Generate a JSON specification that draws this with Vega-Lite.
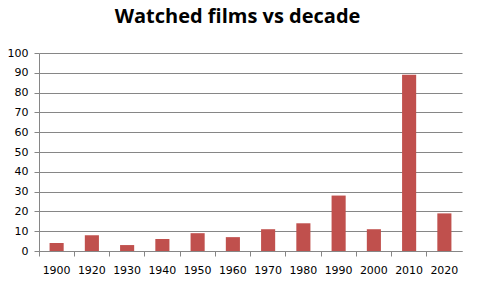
{
  "$schema": "https://vega.github.io/schema/vega-lite/v6.json",
  "autosize": "none",
  "width": 423,
  "height": 198,
  "padding": {"left": 39, "top": 53, "right": 15, "bottom": 33},
  "background": "white",
  "title": {"text": "Watched films vs decade", "font": "Open Sans", "fontWeight": "bold", "fontSize": 20, "color": "#000000", "anchor": "middle", "offset": 20, "dx": -13},
  "data": {"values": [
    {"decade": "1900", "films": 4},
    {"decade": "1920", "films": 8},
    {"decade": "1930", "films": 3},
    {"decade": "1940", "films": 6},
    {"decade": "1950", "films": 9},
    {"decade": "1960", "films": 7},
    {"decade": "1970", "films": 11},
    {"decade": "1980", "films": 14},
    {"decade": "1990", "films": 28},
    {"decade": "2000", "films": 11},
    {"decade": "2010", "films": 89},
    {"decade": "2020", "films": 19}
  ]},
  "config": {"view": {"stroke": null}},
  "mark": {"type": "bar", "color": "#C0504D", "width": {"band": 0.4}},
  "encoding": {
    "x": {"field": "decade", "type": "ordinal", "sort": null,
          "scale": {"paddingInner": 0, "paddingOuter": 0},
          "axis": {"title": null, "labelAngle": 0, "bandPosition": 0, "labelOffset": 0, "labelFont": "DejaVu Sans", "labelFontSize": 11, "labelColor": "#000000", "labelPadding": 8, "tickSize": 5, "tickColor": "#868686", "domainColor": "#868686"}},
    "y": {"field": "films", "type": "quantitative",
          "scale": {"domain": [0, 100], "nice": false},
          "axis": {"title": null, "values": [0,10,20,30,40,50,60,70,80,90,100], "labelOverlap": false, "labelFont": "DejaVu Sans", "labelFontSize": 11, "labelColor": "#000000", "labelPadding": 6, "tickSize": 5, "tickColor": "#868686", "domainColor": "#868686", "gridColor": "#868686", "gridOpacity": 1}}
  }
}
